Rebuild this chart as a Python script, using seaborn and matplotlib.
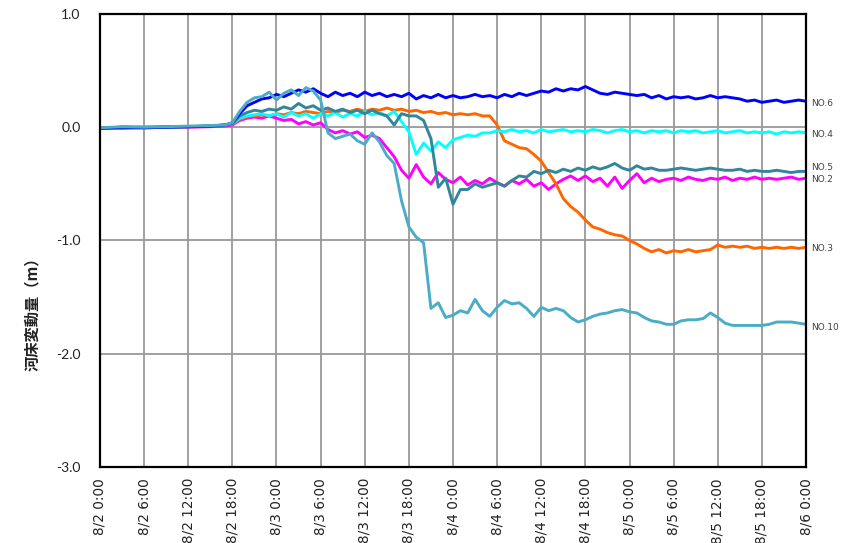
import matplotlib
matplotlib.use("Agg")
import matplotlib.pyplot as plt
import pandas as pd
import seaborn as sns

# hours since 8/2 0:00
hours = [0, 3, 6, 9, 12, 15, 17] + list(range(18, 97))

no6 = [-0.01, 0.0, -0.005, 0.0, 0.005, 0.01, 0.02,
       0.04, 0.12, 0.19, 0.22, 0.25, 0.26, 0.29, 0.27, 0.30, 0.33,
       0.31, 0.34, 0.30, 0.27, 0.31, 0.28, 0.30, 0.27, 0.31, 0.28,
       0.30, 0.27, 0.29, 0.27, 0.30, 0.25, 0.28, 0.26, 0.29, 0.26,
       0.28, 0.26, 0.27, 0.29, 0.27, 0.28, 0.26, 0.29, 0.27, 0.30,
       0.28, 0.30, 0.32, 0.31, 0.34, 0.32, 0.34, 0.33, 0.36, 0.33,
       0.30, 0.29, 0.31, 0.30, 0.29, 0.28, 0.29, 0.26, 0.28, 0.25,
       0.27, 0.26, 0.27, 0.25, 0.26, 0.28, 0.26, 0.27, 0.26, 0.25,
       0.23, 0.24, 0.22, 0.23, 0.24, 0.22, 0.23, 0.24, 0.23]

no10 = [-0.005, 0.005, 0.0, 0.005, 0.01, 0.015, 0.02,
        0.04, 0.14, 0.22, 0.26, 0.27, 0.31, 0.24, 0.30, 0.33, 0.28,
        0.35, 0.32, 0.24, -0.05, -0.10, -0.08, -0.06, -0.12, -0.15, -0.05,
        -0.13, -0.25, -0.32, -0.65, -0.88, -0.97, -1.02, -1.60, -1.55, -1.68,
        -1.66, -1.62, -1.64, -1.52, -1.62, -1.67, -1.59, -1.53, -1.56, -1.55,
        -1.60, -1.67, -1.59, -1.62, -1.60, -1.62, -1.68, -1.72, -1.70, -1.67,
        -1.65, -1.64, -1.62, -1.61, -1.63, -1.64, -1.68, -1.71, -1.72, -1.74,
        -1.74, -1.71, -1.70, -1.70, -1.69, -1.64, -1.68, -1.73, -1.75, -1.75,
        -1.75, -1.75, -1.75, -1.74, -1.72, -1.72, -1.72, -1.73, -1.74]

no4 = [-0.01, 0.0, 0.0, 0.0, 0.005, 0.01, 0.02,
       0.03, 0.08, 0.10, 0.11, 0.12, 0.10, 0.12, 0.09, 0.13, 0.10,
       0.12, 0.08, 0.12, 0.10, 0.13, 0.09, 0.12, 0.10, 0.14, 0.11,
       0.13, 0.10, 0.14, 0.05, -0.04, -0.24, -0.14, -0.21, -0.13, -0.18,
       -0.11, -0.09, -0.07, -0.08, -0.05, -0.05, -0.03, -0.04, -0.02, -0.04,
       -0.03, -0.05, -0.02, -0.04, -0.03, -0.02, -0.04, -0.03, -0.04, -0.02,
       -0.03, -0.05, -0.03, -0.02, -0.04, -0.03, -0.05, -0.03, -0.04, -0.03,
       -0.05, -0.03, -0.04, -0.03, -0.05, -0.04, -0.03, -0.05, -0.04, -0.03,
       -0.05, -0.04, -0.05, -0.04, -0.06, -0.04, -0.05, -0.04, -0.05]

no5 = [-0.01, 0.0, 0.0, 0.005, 0.005, 0.01, 0.02,
       0.03, 0.10, 0.13, 0.15, 0.14, 0.16, 0.15, 0.18, 0.16, 0.21,
       0.17, 0.19, 0.15, 0.17, 0.14, 0.16, 0.13, 0.15, 0.12, 0.15,
       0.12, 0.10, 0.02, 0.12, 0.10, 0.10, 0.06, -0.10, -0.53, -0.45,
       -0.68, -0.55, -0.55, -0.50, -0.53, -0.51, -0.49, -0.52, -0.47, -0.43,
       -0.44, -0.39, -0.41, -0.38, -0.40, -0.37, -0.39, -0.36, -0.38, -0.35,
       -0.37, -0.35, -0.32, -0.36, -0.38, -0.34, -0.37, -0.36, -0.38, -0.38,
       -0.37, -0.36, -0.37, -0.38, -0.37, -0.36, -0.37, -0.38, -0.38, -0.37,
       -0.39, -0.38, -0.39, -0.39, -0.38, -0.39, -0.40, -0.39, -0.39]

no2 = [-0.01, -0.01, -0.005, 0.0, 0.0, 0.005, 0.01,
       0.02, 0.06, 0.08, 0.09, 0.08, 0.10, 0.08, 0.06, 0.07, 0.03,
       0.05, 0.02, 0.04, -0.02, -0.05, -0.03, -0.06, -0.04, -0.09, -0.07,
       -0.10, -0.18, -0.26, -0.38, -0.45, -0.33, -0.44, -0.50, -0.40, -0.46,
       -0.49, -0.44, -0.51, -0.47, -0.50, -0.45, -0.49, -0.52, -0.47, -0.50,
       -0.46, -0.52, -0.49, -0.55, -0.50, -0.46, -0.43, -0.47, -0.43, -0.48,
       -0.45, -0.52, -0.44, -0.54, -0.47, -0.41, -0.49, -0.45, -0.48, -0.46,
       -0.45, -0.47, -0.44, -0.46, -0.47, -0.45, -0.46, -0.44, -0.47, -0.45,
       -0.46, -0.44, -0.46, -0.45, -0.46, -0.45, -0.44, -0.46, -0.45]

no3 = [-0.01, 0.0, 0.0, 0.0, 0.005, 0.01, 0.02,
       0.03, 0.07, 0.09, 0.10, 0.11, 0.10, 0.12, 0.11, 0.13, 0.12,
       0.14, 0.13, 0.12, 0.14, 0.13, 0.15, 0.14, 0.16, 0.14, 0.16,
       0.15, 0.17, 0.15, 0.16, 0.14, 0.15, 0.13, 0.14, 0.12, 0.13,
       0.11, 0.12, 0.11, 0.12, 0.10, 0.10, 0.02, -0.12, -0.15, -0.18,
       -0.19, -0.24, -0.30, -0.40, -0.50, -0.63, -0.70, -0.75, -0.82, -0.88,
       -0.90, -0.93, -0.95, -0.96, -1.00, -1.03, -1.07, -1.10, -1.08, -1.11,
       -1.09, -1.10, -1.08, -1.10, -1.09, -1.08, -1.04, -1.06, -1.05, -1.06,
       -1.05, -1.07, -1.06, -1.07, -1.06, -1.07, -1.06, -1.07, -1.06]

stations = ["NO.2", "NO.3", "NO.4", "NO.5", "NO.6", "NO.10"]
colors = {"NO.2": "#FF00FF", "NO.3": "#FF6600", "NO.4": "#00FFFF",
          "NO.5": "#31869B", "NO.6": "#0000FF", "NO.10": "#4BACC6"}
series = {"NO.2": no2, "NO.3": no3, "NO.4": no4,
          "NO.5": no5, "NO.6": no6, "NO.10": no10}

x_ticks = list(range(0, 97, 6))
x_labels = ["8/2 0:00", "8/2 6:00", "8/2 12:00", "8/2 18:00",
            "8/3 0:00", "8/3 6:00", "8/3 12:00", "8/3 18:00",
            "8/4 0:00", "8/4 6:00", "8/4 12:00", "8/4 18:00",
            "8/5 0:00", "8/5 6:00", "8/5 12:00", "8/5 18:00", "8/6 0:00"]
y_ticks = [1.0, 0.0, -1.0, -2.0, -3.0]

df = pd.concat([pd.DataFrame({"hour": hours, "value": series[s], "station": s})
                for s in stations], ignore_index=True)

sns.set_theme(style="white")
plt.rcParams['font.family'] = ['DejaVu Sans']

fig = plt.figure(figsize=(8.41, 5.43), dpi=100)
ax = fig.add_axes([0.1189, 0.14, 0.8395, 0.8342])

sns.lineplot(data=df, x="hour", y="value", hue="station", hue_order=stations,
             palette=colors, linewidth=2.1, legend=False, ax=ax)

ax.set_xlim(0, 96)
ax.set_ylim(-3.0, 1.0)
ax.set_xticks(x_ticks)
ax.set_xticklabels(x_labels, rotation=90, fontsize=9.8, color="#222222")
ax.set_yticks(y_ticks)
ax.set_yticklabels([f"{v:.1f}" for v in y_ticks], fontsize=10,
                   family="Lato", color="#222222")
ax.tick_params(axis="both", length=0)
ax.tick_params(axis="x", pad=8)
ax.tick_params(axis="y", pad=14)
ax.grid(True, color="#999999", linewidth=1.3)
ax.set_axisbelow(True)
for sp in ax.spines.values():
    sp.set_visible(True)
    sp.set_color("black")
    sp.set_linewidth(1.6)

ax.set_xlabel("")
ax.set_ylabel("河床変動量（m）", family=["Noto Sans CJK JP", "DejaVu Sans"],
              fontsize=11, fontweight="bold", color="#222222")
ax.yaxis.set_label_coords(-0.085, 0.345)

label_dy = {"NO.6": -2, "NO.4": -1, "NO.5": 3, "NO.2": -1, "NO.3": -1, "NO.10": -2}
for s in stations:
    ax.annotate(s, xy=(hours[-1], series[s][-1]), xytext=(4, label_dy[s]),
                textcoords="offset points", fontsize=6.5, color="#404040",
                va="center", ha="left", annotation_clip=False)

fig.savefig("out.png", dpi=100)
